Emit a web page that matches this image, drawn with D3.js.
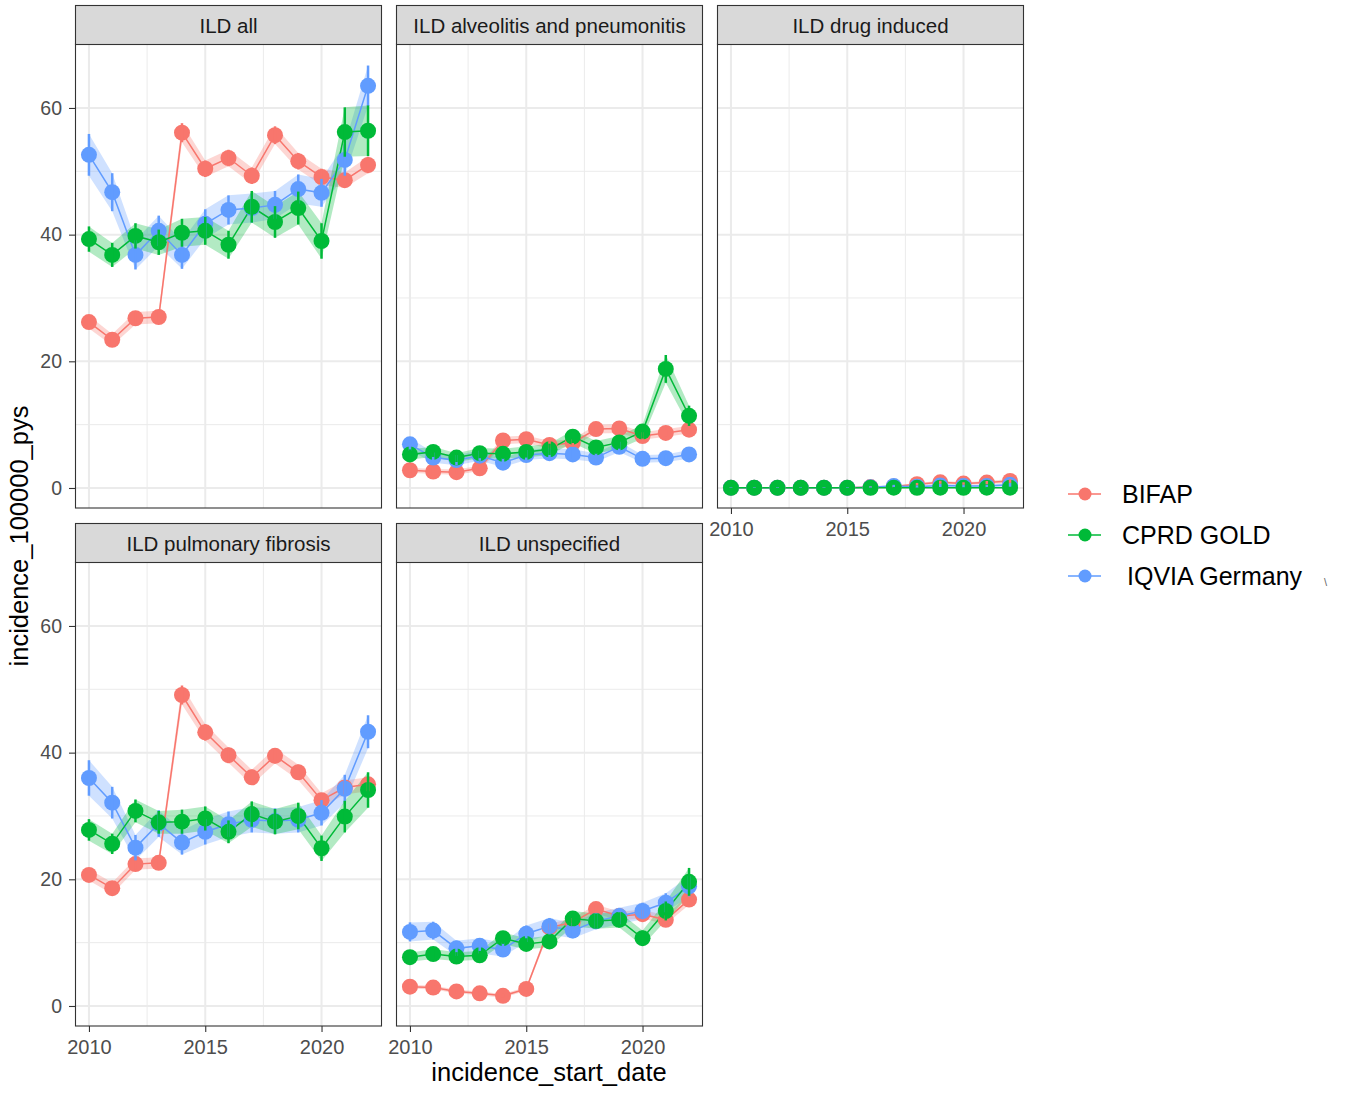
<!DOCTYPE html>
<html>
<head>
<meta charset="utf-8">
<script src="https://cdn.jsdelivr.net/npm/d3@7"></script>
<style>
  body { margin: 0; background: white; }
  text { font-family: "Liberation Sans", Arial, Helvetica, sans-serif; }
</style>
</head>
<body>
<div id="chart"></div>
<script>
// years on the x axis
const years = [2010, 2011, 2012, 2013, 2014, 2015, 2016, 2017, 2018, 2019, 2020, 2021, 2022];
const databases = ["BIFAP", "CPRD GOLD", "IQVIA Germany"];
const colours = ["#F8766D", "#00BA38", "#619CFF"];
const panelNames = ["ILD all", "ILD alveolitis and pneumonitis", "ILD drug induced", "ILD pulmonary fibrosis", "ILD unspecified"];
const yTicks = [0, 20, 40, 60];
const xTicks = [2010, 2015, 2020];

// ILD all
const allBifap = [26.2, 23.4, 26.8, 27.0, 56.1, 50.4, 52.1, 49.3, 55.7, 51.6, 49.1, 48.6, 51.0];
const allCprd  = [39.3, 36.8, 39.8, 38.8, 40.3, 40.6, 38.4, 44.4, 42.0, 44.2, 39.0, 56.2, 56.4];
const allIqvia = [52.6, 46.7, 36.8, 40.6, 36.8, 41.7, 43.9, 44.2, 44.7, 47.2, 46.6, 51.8, 63.5];
const allBifapCi = [1.0, 0.9, 1.0, 1.0, 1.5, 1.3, 1.3, 1.3, 1.4, 1.3, 1.3, 1.2, 1.3];
const allCprdCi  = [2.0, 1.9, 2.0, 2.0, 2.2, 2.2, 2.2, 2.5, 2.5, 2.6, 2.8, 3.9, 4.0];
const allIqviaCi = [3.3, 3.0, 2.3, 2.4, 2.2, 2.3, 2.3, 2.3, 2.2, 2.3, 2.2, 2.5, 3.2];

// ILD alveolitis and pneumonitis
const alvBifap = [2.8, 2.6, 2.5, 3.1, 7.5, 7.7, 6.8, 7.1, 9.3, 9.4, 8.2, 8.7, 9.2];
const alvCprd  = [5.3, 5.7, 4.8, 5.5, 5.4, 5.7, 6.1, 8.1, 6.4, 7.2, 8.9, 18.8, 11.4];
const alvIqvia = [6.9, 4.8, 4.4, 5.1, 4.0, 5.2, 5.5, 5.3, 4.8, 6.5, 4.6, 4.7, 5.3];
const alvBifapCi = [0.4, 0.4, 0.4, 0.4, 0.6, 0.6, 0.6, 0.6, 0.7, 0.7, 0.6, 0.6, 0.6];
const alvCprdCi  = [0.8, 0.8, 0.7, 0.8, 0.8, 0.9, 0.9, 1.0, 1.0, 1.0, 1.1, 2.2, 1.6];
const alvIqviaCi = [1.0, 0.8, 0.8, 0.8, 0.7, 0.8, 0.8, 0.8, 0.7, 0.8, 0.6, 0.6, 0.7];

// ILD drug induced
const drugBifap = [0.05, 0.05, 0.05, 0.05, 0.05, 0.05, 0.15, 0.25, 0.6, 0.9, 0.7, 0.85, 1.1];
const drugCprd  = [0.02, 0.02, 0.02, 0.02, 0.02, 0.02, 0.02, 0.05, 0.02, 0.05, 0.02, 0.05, 0.05];
const drugIqvia = [0.05, 0.05, 0.05, 0.05, 0.05, 0.05, 0.1, 0.3, 0.2, 0.4, 0.3, 0.3, 0.5];
const drugBifapCi = [0.05, 0.05, 0.05, 0.05, 0.05, 0.05, 0.1, 0.15, 0.2, 0.25, 0.2, 0.25, 0.3];
const drugCprdCi  = [0.05, 0.05, 0.05, 0.05, 0.05, 0.05, 0.05, 0.1, 0.05, 0.1, 0.05, 0.1, 0.1];
const drugIqviaCi = [0.1, 0.1, 0.1, 0.1, 0.1, 0.1, 0.15, 0.2, 0.2, 0.25, 0.2, 0.2, 0.3];

// ILD pulmonary fibrosis
const pfBifap = [20.7, 18.6, 22.4, 22.6, 49.1, 43.2, 39.6, 36.1, 39.5, 36.9, 32.5, 34.5, 35.0];
const pfCprd  = [27.8, 25.6, 30.8, 29.0, 29.1, 29.6, 27.5, 30.3, 29.1, 30.0, 24.9, 29.9, 34.1];
const pfIqvia = [36.0, 32.1, 25.0, 28.8, 25.8, 27.5, 28.7, 29.4, 29.2, 29.4, 30.5, 34.3, 43.3];
const pfBifapCi = [0.9, 0.9, 0.9, 0.9, 1.5, 1.3, 1.2, 1.2, 1.2, 1.2, 1.1, 1.1, 1.1];
const pfCprdCi  = [1.7, 1.6, 1.8, 1.8, 1.9, 1.9, 1.8, 2.0, 2.0, 2.1, 2.0, 2.5, 2.8];
const pfIqviaCi = [2.8, 2.5, 2.0, 2.1, 1.9, 2.0, 2.0, 2.0, 2.0, 2.0, 2.0, 2.2, 2.6];

// ILD unspecified
const unsBifap = [3.05, 2.9, 2.3, 2.0, 1.6, 2.7, 12.4, 13.2, 15.3, 14.2, 14.5, 13.6, 16.8];
const unsCprd  = [7.7, 8.2, 7.8, 8.0, 10.7, 9.8, 10.2, 13.8, 13.4, 13.6, 10.7, 15.0, 19.6];
const unsIqvia = [11.7, 11.9, 9.1, 9.5, 8.9, 11.4, 12.6, 11.9, 13.4, 14.2, 15.0, 16.3, 18.9];
const unsBifapCi = [0.3, 0.3, 0.3, 0.3, 0.3, 0.3, 0.6, 0.7, 0.7, 0.7, 0.7, 0.7, 0.8];
const unsCprdCi  = [0.7, 0.8, 0.7, 0.7, 0.9, 0.9, 0.9, 1.2, 1.2, 1.2, 1.2, 1.5, 2.2];
const unsIqviaCi = [1.5, 1.4, 1.2, 1.2, 1.1, 1.3, 1.3, 1.2, 1.3, 1.3, 1.3, 1.5, 1.6];

// assemble panel table from the arrays
const panelValues = [
  [allBifap, allCprd, allIqvia], [alvBifap, alvCprd, alvIqvia], [drugBifap, drugCprd, drugIqvia],
  [pfBifap, pfCprd, pfIqvia], [unsBifap, unsCprd, unsIqvia]
];
const panelCis = [
  [allBifapCi, allCprdCi, allIqviaCi], [alvBifapCi, alvCprdCi, alvIqviaCi], [drugBifapCi, drugCprdCi, drugIqviaCi],
  [pfBifapCi, pfCprdCi, pfIqviaCi], [unsBifapCi, unsCprdCi, unsIqviaCi]
];

const width = 1349, height = 1093;
const colX = [75, 396, 717];
const rowY = [5, 523];
const panelW = 307, stripH = 39, plotH = 464;
// green points sit on top in the original
const drawOrder = [0, 2, 1];

const svg = d3.select('#chart')
  .append('svg')
  .attr('width', width)
  .attr('height', height)
  .style('background', 'white');

const xScale = d3.scaleLinear().domain([2009.4, 2022.6]).range([0, panelW]);
const yScale = d3.scaleLinear().domain([-3.16, 70.1]).range([plotH, 0]);

panelNames.forEach((name, p) => {
  const col = p % 3, row = Math.floor(p / 3);
  const g = svg.append('g')
    .attr('transform', `translate(${colX[col]},${rowY[row] + stripH})`);

  // strip
  svg.append('rect')
    .attr('x', colX[col] + 0.5).attr('y', rowY[row] + 0.5)
    .attr('width', panelW - 1).attr('height', stripH)
    .attr('fill', '#d9d9d9').attr('stroke', '#333').attr('stroke-width', 1.1);
  svg.append('text')
    .attr('x', colX[col] + panelW / 2).attr('y', rowY[row] + 27.5)
    .attr('text-anchor', 'middle').style('font-size', '20.5px').attr('fill', '#1a1a1a')
    .text(name);

  // grid
  [10, 30, 50].forEach(v => g.append('line')
    .attr('x1', 0).attr('x2', panelW).attr('y1', yScale(v)).attr('y2', yScale(v))
    .attr('stroke', '#ebebeb').attr('stroke-width', 1));
  [2012.5, 2017.5].forEach(v => g.append('line')
    .attr('y1', 0).attr('y2', plotH).attr('x1', xScale(v)).attr('x2', xScale(v))
    .attr('stroke', '#ebebeb').attr('stroke-width', 1));
  yTicks.forEach(v => g.append('line')
    .attr('x1', 0).attr('x2', panelW).attr('y1', yScale(v)).attr('y2', yScale(v))
    .attr('stroke', '#ebebeb').attr('stroke-width', 2));
  xTicks.forEach(v => g.append('line')
    .attr('y1', 0).attr('y2', plotH).attr('x1', xScale(v)).attr('x2', xScale(v))
    .attr('stroke', '#ebebeb').attr('stroke-width', 2));

  const series = databases.map((db, s) => years.map((yr, i) => ({
    year: yr, value: panelValues[p][s][i], ci: panelCis[p][s][i]
  })));

  // ribbons
  drawOrder.forEach(s => {
    g.append('path').datum(series[s])
      .attr('d', d3.area().x(e => xScale(e.year))
        .y0(e => yScale(Math.max(0, e.value - e.ci))).y1(e => yScale(e.value + e.ci)))
      .attr('fill', colours[s]).attr('fill-opacity', 0.3);
  });
  // lines
  drawOrder.forEach(s => {
    g.append('path').datum(series[s])
      .attr('d', d3.line().x(e => xScale(e.year)).y(e => yScale(e.value)))
      .attr('fill', 'none').attr('stroke', colours[s]).attr('stroke-width', 1.5);
  });
  // points
  drawOrder.forEach(s => {
    g.selectAll(null).data(series[s]).join('circle')
      .attr('cx', e => xScale(e.year)).attr('cy', e => yScale(e.value))
      .attr('r', 8).attr('fill', colours[s]);
  });
  // error bars
  drawOrder.forEach(s => {
    g.selectAll(null).data(series[s]).join('line')
      .attr('x1', e => xScale(e.year)).attr('x2', e => xScale(e.year))
      .attr('y1', e => yScale(Math.max(0, e.value - e.ci))).attr('y2', e => yScale(e.value + e.ci))
      .attr('stroke', colours[s]).attr('stroke-width', 2.5);
  });

  // border
  g.append('rect').attr('x', 0.5).attr('y', 0).attr('width', panelW - 1).attr('height', plotH)
    .attr('fill', 'none').attr('stroke', '#333').attr('stroke-width', 1.1);

  // axes
  if (col === 0) {
    const yaxis = g.append('g').call(d3.axisLeft(yScale).tickValues(yTicks).tickSize(6).tickPadding(7));
    yaxis.select('.domain').remove();
    yaxis.selectAll('line').attr('stroke', '#333').attr('stroke-width', 1.1);
    yaxis.selectAll('text').style('font-size', '19.5px').attr('fill', '#4d4d4d')
      .style('font-family', '"Liberation Sans", Arial, sans-serif');
  }
  if (row === 1 || p === 2) {
    const xaxis = g.append('g').attr('transform', `translate(0,${plotH})`)
      .call(d3.axisBottom(xScale).tickValues(xTicks).tickFormat(d3.format('d')).tickSize(6).tickPadding(8));
    xaxis.select('.domain').remove();
    xaxis.selectAll('line').attr('stroke', '#333').attr('stroke-width', 1.1);
    xaxis.selectAll('text').style('font-size', '20px').attr('fill', '#4d4d4d')
      .style('font-family', '"Liberation Sans", Arial, sans-serif');
  }
});

// axis titles
svg.append('text')
  .text('incidence_start_date')
  .attr('x', 549).attr('y', 1081)
  .attr('text-anchor', 'middle').style('font-size', '25.5px').attr('fill', '#000');
svg.append('text')
  .text('incidence_100000_pys')
  .attr('transform', 'rotate(-90)')
  .attr('x', -536).attr('y', 28)
  .attr('text-anchor', 'middle').style('font-size', '25.5px').attr('fill', '#000');

// legend
const legendY = [494, 535, 576];
databases.forEach((db, s) => {
  svg.append('line').attr('x1', 1068).attr('x2', 1101).attr('y1', legendY[s]).attr('y2', legendY[s])
    .attr('stroke', colours[s]).attr('stroke-width', 1.5);
  svg.append('circle').attr('cx', 1085).attr('cy', legendY[s]).attr('r', 6.5).attr('fill', colours[s]);
  svg.append('text').attr('x', s === 2 ? 1127 : 1122).attr('y', legendY[s] + 8.5)
    .style('font-size', '25px').attr('fill', '#000').text(db);
});
svg.append('text').attr('x', 1324).attr('y', 586).style('font-size', '11px').attr('fill', '#666').text('\\');
</script>
</body>
</html>
